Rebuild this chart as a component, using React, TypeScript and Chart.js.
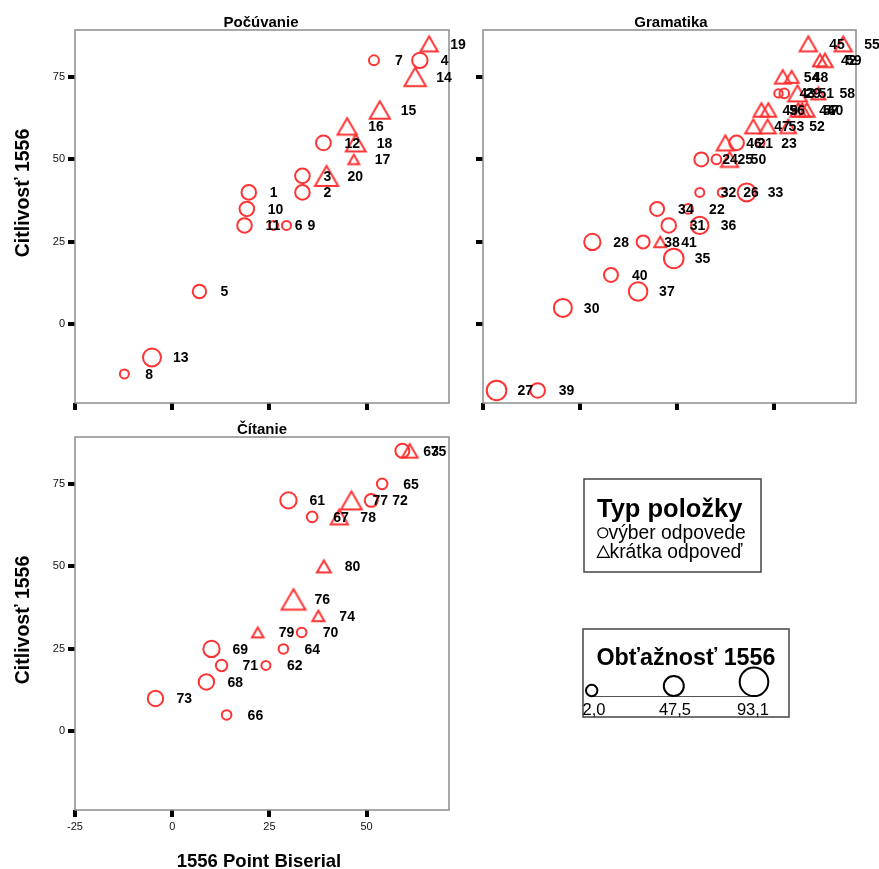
import React, { useEffect, useRef } from 'react';
import { Chart, registerables } from 'chart.js';

Chart.register(...registerables);

const FONT = '"Liberation Sans", Arial, Helvetica, sans-serif';
const MARKER_COLOR = '#ff3333';

// Axes
const X_TICKS = [-25, 0, 25, 50];
const Y_TICKS = [0, 25, 50, 75];
const X_MIN = -25;
const X_MAX = 71.2;
const Y_MIN = -23.8;
const Y_MAX = 89.2;

// Legend values (Obťažnosť 1556)
const SIZE_LEGEND = ['2,0', '47,5', '93,1'];
const TYPE_LEGEND = ['výber odpovede', 'krátka odpoveď'];

// Počúvanie (items 1-20); typ: v = výber odpovede, k = krátka odpoveď
const POC_ID = [1, 2, 3, 4, 5, 6, 7, 8, 9, 10, 11, 12, 13, 14, 15, 16, 17, 18, 19, 20];
const POC_BISERIAL = [19.7, 33.5, 33.5, 63.7, 7.0, 26.1, 51.9, -12.3, 29.4, 19.2, 18.6, 38.9, -5.2, 62.5, 53.4, 45.0, 46.7, 47.2, 66.1, 39.7];
const POC_CITLIVOST = [40, 40, 45, 80, 10, 30, 80, -15, 30, 35, 30, 55, -10, 75, 65, 60, 50, 55, 85, 45];
const POC_OBTIAZNOST = [48, 48, 48, 54, 40, 9, 16, 9, 9, 48, 48, 50, 72, 76, 68, 62, 5, 65, 48, 88];
const POC_TYP = ['v', 'v', 'v', 'v', 'v', 'v', 'v', 'v', 'v', 'v', 'v', 'v', 'v', 'k', 'k', 'k', 'k', 'k', 'k', 'k'];

// Gramatika (items 21-60)
const GRA_ID = [21, 22, 23, 24, 25, 26, 27, 28, 29, 30, 31, 32, 33, 34, 35, 36, 37, 38, 39, 40, 41, 42, 43, 44, 45, 46, 47, 48, 49, 50, 51, 52, 53, 54, 55, 56, 57, 58, 59, 60];
const GRA_BISERIAL = [40.4, 27.9, 46.5, 31.3, 35.2, 36.7, -21.5, 3.2, 52.7, -4.4, 22.9, 30.9, 43.0, 19.9, 24.2, 30.9, 15.0, 16.3, -10.9, 8.0, 20.7, 61.9, 51.2, 56.3, 58.9, 37.5, 44.7, 54.6, 46.8, 38.6, 56.1, 53.7, 48.4, 52.3, 67.9, 48.6, 57.3, 61.5, 63.2, 58.5];
const GRA_CITLIVOST = [55, 35, 55, 50, 50, 40, -20, 25, 70, 5, 30, 40, 40, 35, 20, 30, 10, 25, -20, 15, 25, 80, 70, 65, 85, 55, 60, 75, 65, 50, 70, 60, 60, 75, 85, 65, 65, 70, 80, 65];
const GRA_OBTIAZNOST = [48, 13, 5, 44, 13, 9, 83, 60, 13, 72, 48, 9, 72, 44, 83, 68, 76, 37, 48, 44, 13, 26, 5, 37, 48, 48, 40, 26, 37, 48, 58, 37, 40, 37, 48, 37, 37, 26, 37, 37];
const GRA_TYP = ['v', 'v', 'v', 'v', 'v', 'v', 'v', 'v', 'v', 'v', 'v', 'v', 'v', 'v', 'v', 'v', 'v', 'v', 'v', 'v', 'k', 'k', 'v', 'k', 'k', 'k', 'k', 'k', 'k', 'k', 'k', 'k', 'k', 'k', 'k', 'k', 'k', 'k', 'k', 'k'];

// Čítanie (items 61-80)
const CIT_ID = [61, 62, 63, 64, 65, 66, 67, 68, 69, 70, 71, 72, 73, 74, 75, 76, 77, 78, 79, 80];
const CIT_BISERIAL = [29.9, 24.1, 59.2, 28.6, 54.0, 14.0, 36.0, 8.8, 10.1, 33.3, 12.7, 51.2, -4.3, 37.6, 61.1, 31.2, 46.1, 43.0, 22.0, 39.0];
const CIT_CITLIVOST = [70, 20, 85, 25, 75, 5, 65, 15, 25, 30, 20, 70, 10, 35, 85, 40, 70, 65, 30, 50];
const CIT_OBTIAZNOST = [60, 9, 44, 13, 20, 13, 20, 54, 60, 13, 26, 37, 54, 13, 37, 93, 72, 48, 9, 26];
const CIT_TYP = ['v', 'v', 'v', 'v', 'v', 'v', 'v', 'v', 'v', 'v', 'v', 'v', 'v', 'k', 'k', 'k', 'k', 'k', 'k', 'k'];

const circleR = (d: number) => 4 + (6.5 * (d - 2)) / 91.1;
const triR = (d: number) => 1.2 * (circleR(d) + 1);

// Triangle marker centred on its bounding box (as in the source chart)
const triCache = new Map<number, HTMLCanvasElement>();
function triangleImage(d: number): HTMLCanvasElement {
  const hit = triCache.get(d);
  if (hit) return hit;
  const R = triR(d);
  const half = (Math.sqrt(3) * R) / 2;
  const size = Math.ceil(2 * half + 6) + (Math.ceil(2 * half + 6) % 2);
  const c = document.createElement('canvas');
  c.width = size;
  c.height = size;
  const g = c.getContext('2d')!;
  const cx = size / 2;
  const cy = size / 2;
  g.beginPath();
  g.moveTo(cx, cy - 0.75 * R);
  g.lineTo(cx + half, cy + 0.75 * R);
  g.lineTo(cx - half, cy + 0.75 * R);
  g.closePath();
  g.strokeStyle = MARKER_COLOR;
  g.lineWidth = 2;
  g.stroke();
  triCache.set(d, c);
  return c;
}

const labelPlugin = {
  id: 'itemLabels',
  afterDatasetsDraw(chart: any) {
    const ctx = chart.ctx;
    ctx.save();
    ctx.font = `bold 14px ${FONT}`;
    ctx.fillStyle = '#000';
    ctx.textAlign = 'left';
    ctx.textBaseline = 'middle';
    chart.data.datasets.forEach((ds: any, i: number) => {
      const meta = chart.getDatasetMeta(i);
      meta.data.forEach((el: any, j: number) => {
        ctx.fillText(String(ds.data[j].id), el.x + 21, el.y + 1);
      });
    });
    ctx.restore();
  },
};

const framePlugin = {
  id: 'frame',
  beforeDatasetsDraw(chart: any) {
    const { left, top, right, bottom } = chart.chartArea;
    const ctx = chart.ctx;
    ctx.save();
    ctx.strokeStyle = '#8c8c8c';
    ctx.lineWidth = 1.5;
    ctx.strokeRect(left, top, right - left, bottom - top);
    ctx.restore();
  },
};

function buildChart(
  canvas: HTMLCanvasElement,
  ids: number[],
  xs: number[],
  ys: number[],
  ds: number[],
  typ: string[],
  o: { showX: boolean; showY: boolean; yWidth: number; xHeight: number; pad: any }
) {
  const pts = ids.map((id, i) => ({ x: xs[i], y: ys[i], d: ds[i], id, t: typ[i] }));
  const circles = pts.filter((p) => p.t === 'v');
  const triangles = pts.filter((p) => p.t === 'k');
  const gridCfg = {
    display: true,
    drawOnChartArea: false,
    drawTicks: true,
    tickLength: 7,
    tickWidth: 4,
    tickColor: '#000',
    lineWidth: 4,
    color: '#000',
  };
  return new Chart(canvas, {
    type: 'scatter',
    data: {
      datasets: [
        {
          label: TYPE_LEGEND[0],
          data: circles,
          pointStyle: 'circle',
          pointRadius: (c: any) => (c.raw ? circleR(c.raw.d) : 5),
          pointBorderColor: MARKER_COLOR,
          pointBackgroundColor: 'rgba(0,0,0,0)',
          pointBorderWidth: 2,
          clip: false,
        },
        {
          label: TYPE_LEGEND[1],
          data: triangles,
          pointStyle: (c: any) => (c.raw ? triangleImage(c.raw.d) : 'triangle'),
          pointRadius: (c: any) => (c.raw ? triR(c.raw.d) : 5),
          pointBorderColor: MARKER_COLOR,
          pointBackgroundColor: 'rgba(0,0,0,0)',
          pointBorderWidth: 2,
          clip: false,
        },
      ],
    } as any,
    options: {
      responsive: false,
      animation: false,
      events: [],
      layout: { padding: o.pad, autoPadding: false },
      plugins: { legend: { display: false }, tooltip: { enabled: false }, title: { display: false } },
      scales: {
        x: {
          type: 'linear',
          position: 'bottom',
          min: X_MIN,
          max: X_MAX,
          afterBuildTicks: (s: any) => {
            s.ticks = X_TICKS.map((value) => ({ value }));
          },
          afterFit: (s: any) => {
            s.height = o.xHeight;
          },
          ticks: {
            display: o.showX,
            autoSkip: false,
            maxRotation: 0,
            padding: 3,
            color: '#111',
            font: { family: FONT, size: 11 },
            callback: (v: any) => String(v),
          },
          grid: gridCfg,
          border: { display: false },
        },
        y: {
          type: 'linear',
          position: 'left',
          min: Y_MIN,
          max: Y_MAX,
          afterBuildTicks: (s: any) => {
            s.ticks = Y_TICKS.map((value) => ({ value }));
          },
          afterFit: (s: any) => {
            s.width = o.yWidth;
          },
          ticks: {
            display: o.showY,
            autoSkip: false,
            padding: 3,
            color: '#111',
            font: { family: FONT, size: 11 },
            callback: (v: any) => String(v),
          },
          grid: gridCfg,
          border: { display: false },
        },
      },
    } as any,
    plugins: [framePlugin, labelPlugin],
  });
}

export default function App() {
  const r1 = useRef<HTMLCanvasElement>(null);
  const r2 = useRef<HTMLCanvasElement>(null);
  const r3 = useRef<HTMLCanvasElement>(null);

  useEffect(() => {
    const c1 = buildChart(r1.current!, POC_ID, POC_BISERIAL, POC_CITLIVOST, POC_OBTIAZNOST, POC_TYP, {
      showX: false,
      showY: true,
      yWidth: 75,
      xHeight: 17,
      pad: { left: 0, top: 10, right: 27, bottom: 0 },
    });
    const c2 = buildChart(r2.current!, GRA_ID, GRA_BISERIAL, GRA_CITLIVOST, GRA_OBTIAZNOST, GRA_TYP, {
      showX: false,
      showY: false,
      yWidth: 7,
      xHeight: 17,
      pad: { left: 0, top: 10, right: 23, bottom: 0 },
    });
    const c3 = buildChart(r3.current!, CIT_ID, CIT_BISERIAL, CIT_CITLIVOST, CIT_OBTIAZNOST, CIT_TYP, {
      showX: true,
      showY: true,
      yWidth: 75,
      xHeight: 35,
      pad: { left: 0, top: 12, right: 27, bottom: 0 },
    });
    return () => {
      c1.destroy();
      c2.destroy();
      c3.destroy();
    };
  }, []);

  const txt = { fontFamily: FONT, fill: '#000' } as any;

  return (
    <div style={{ position: 'absolute', left: 0, top: 0, width: 879, height: 869, background: '#fff', overflow: 'hidden' }}>
      <canvas ref={r1} width={476} height={400} style={{ position: 'absolute', left: 0, top: 20 }} />
      <canvas ref={r2} width={403} height={400} style={{ position: 'absolute', left: 476, top: 20 }} />
      <canvas ref={r3} width={476} height={420} style={{ position: 'absolute', left: 0, top: 425 }} />
      <svg width={879} height={869} style={{ position: 'absolute', left: 0, top: 0, pointerEvents: 'none' }}>
        <text x={261} y={26.5} textAnchor="middle" fontWeight="bold" fontSize={15} style={txt}>Počúvanie</text>
        <text x={671} y={26.5} textAnchor="middle" fontWeight="bold" fontSize={15} style={txt}>Gramatika</text>
        <text x={262} y={433.5} textAnchor="middle" fontWeight="bold" fontSize={15} style={txt}>Čítanie</text>

        <text transform="translate(28.5,193) rotate(-90)" textAnchor="middle" fontWeight="bold" fontSize={19.5} style={txt}>Citlivosť 1556</text>
        <text transform="translate(28.5,620) rotate(-90)" textAnchor="middle" fontWeight="bold" fontSize={19.5} style={txt}>Citlivosť 1556</text>
        <text x={259} y={867} textAnchor="middle" fontWeight="bold" fontSize={18.5} style={txt}>1556 Point Biserial</text>

        <rect x={584} y={479} width={177} height={93} fill="#fff" stroke="#444" strokeWidth={1.5} />
        <text x={597} y={516.5} fontWeight="bold" fontSize={25.5} style={txt}>Typ položky</text>
        <circle cx={602.8} cy={532.8} r={5} fill="none" stroke="#000" strokeWidth={1.2} />
        <text x={608.5} y={538.5} fontSize={19.3} style={txt}>{TYPE_LEGEND[0]}</text>
        <polygon points="603.3,546 597.3,557.3 609.3,557.3" fill="none" stroke="#000" strokeWidth={1.2} />
        <text x={609.5} y={557.5} fontSize={19.3} style={txt}>{TYPE_LEGEND[1]}</text>

        <rect x={583} y={629} width={206} height={88} fill="#fff" stroke="#444" strokeWidth={1.5} />
        <text x={596.5} y={664.5} fontWeight="bold" fontSize={23.3} style={txt}>Obťažnosť 1556</text>
        <line x1={591.7} y1={696.5} x2={754} y2={696.5} stroke="#555" strokeWidth={1} />
        <circle cx={591.7} cy={690.5} r={5.7} fill="none" stroke="#000" strokeWidth={2} />
        <circle cx={673.8} cy={686} r={10} fill="none" stroke="#000" strokeWidth={2} />
        <circle cx={754} cy={681.8} r={14.3} fill="none" stroke="#000" strokeWidth={2} />
        <text x={594} y={715} textAnchor="middle" fontSize={16.5} style={txt}>{SIZE_LEGEND[0]}</text>
        <text x={675} y={715} textAnchor="middle" fontSize={16.5} style={txt}>{SIZE_LEGEND[1]}</text>
        <text x={753} y={715} textAnchor="middle" fontSize={16.5} style={txt}>{SIZE_LEGEND[2]}</text>
      </svg>
    </div>
  );
}
